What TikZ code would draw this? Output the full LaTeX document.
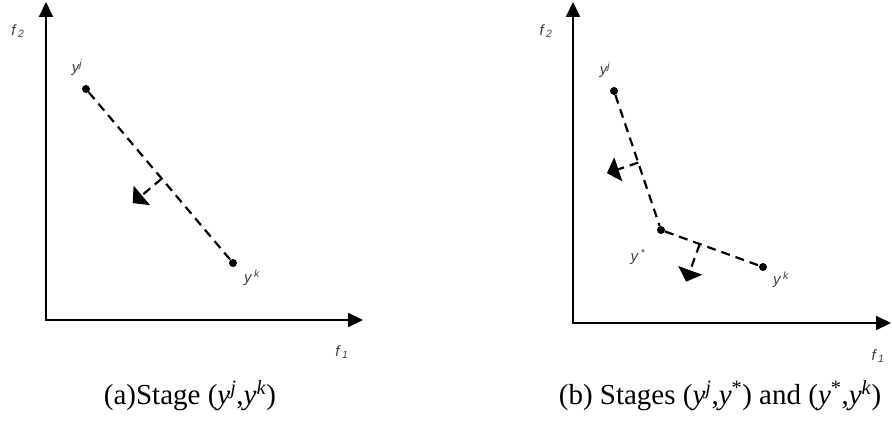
\documentclass[tikz,border=0pt]{standalone}
\usepackage{fontspec}
\setmainfont{Liberation Serif}
\newfontfamily\lblfont{Liberation Sans}
\usetikzlibrary{arrows.meta,calc}
\begin{document}
\begin{tikzpicture}[x=1pt,y=-1pt,
  axis/.style={line width=2.2pt, {Triangle[length=15pt,width=14pt]}-{Triangle[length=15pt,width=14pt]}},
  dotnode/.style={circle, fill=black, inner sep=0pt, minimum size=8pt},
  seg/.style={line width=2.2pt, dash pattern=on 9pt off 6pt},
  perp/.style={seg, -{Triangle[length=12pt,width=25pt]}},
  lbl/.style={font=\lblfont\fontsize{15}{17}\selectfont\itshape, text=black!75, inner sep=0pt},
  captext/.style={font=\fontsize{29}{32}\selectfont, inner sep=0pt, anchor=base}
]
\useasboundingbox (0,0) rectangle (892,425);

% ---------- panel (a) ----------
\coordinate (aY) at (46,2);
\coordinate (aO) at (46,320);
\coordinate (aX) at (363,320);
\draw[axis] (aY) -- (aO) -- (aX);
\node[lbl] (af2) at (18,31) {f\,\textsubscript{2}};
\node[lbl] (af1) at (342,352) {f\,\textsubscript{1}};

\node[dotnode] (ayj) at (86,89) {};
\node[dotnode] (ayk) at (233,263) {};
\node[lbl] (ayjl) at (77,68) {y\textsuperscript{j}};
\node[lbl] (aykl) at (252,278) {y\,\textsuperscript{k}};
\draw[seg] (ayj) -- (ayk);
\coordinate (am) at ($(ayj)!0.515!(ayk)$);
\coordinate (at) at ($(am)!38pt!-90:(ayk)$);
\draw[perp] (am) -- (at);

\node[captext] (capa) at (190,404) {(a)Stage (\textit{y}\textsuperscript{\textit{j}},\textit{y}\textsuperscript{\textit{k}})};

% ---------- panel (b) ----------
\coordinate (bY) at (573,2);
\coordinate (bO) at (573,323);
\coordinate (bX) at (891,323);
\draw[axis] (bY) -- (bO) -- (bX);
\node[lbl] (bf2) at (546,31) {f\,\textsubscript{2}};
\node[lbl] (bf1) at (878,356) {f\,\textsubscript{1}};

\node[dotnode] (byj) at (614,91) {};
\node[dotnode] (bys) at (661,230) {};
\node[dotnode] (byk) at (763,267) {};
\node[lbl] (byjl) at (605,70) {y\textsuperscript{j}};
\node[lbl] (bysl) at (638,257) {y\,\textsuperscript{*}};
\node[lbl] (bykl) at (781,280) {y\,\textsuperscript{k}};
\draw[seg] (byj) -- (bys);
\draw[seg] (bys) -- (byk);
\coordinate (bm1) at ($(byj)!0.515!(bys)$);
\coordinate (bt1) at ($(bm1)!33pt!-90:(bys)$);
\draw[perp] (bm1) -- (bt1);
\coordinate (bm2) at ($(bys)!0.38!(byk)$);
\coordinate (bt2) at ($(bm2)!40pt!-90:(byk)$);
\draw[perp] (bm2) -- (bt2);

\node[captext] (capb) at (720,404) {(b) Stages (\textit{y}\textsuperscript{\textit{j}},\textit{y}\textsuperscript{*}) and (\textit{y}\textsuperscript{*},\textit{y}\textsuperscript{\textit{k}})};
\end{tikzpicture}
\end{document}
